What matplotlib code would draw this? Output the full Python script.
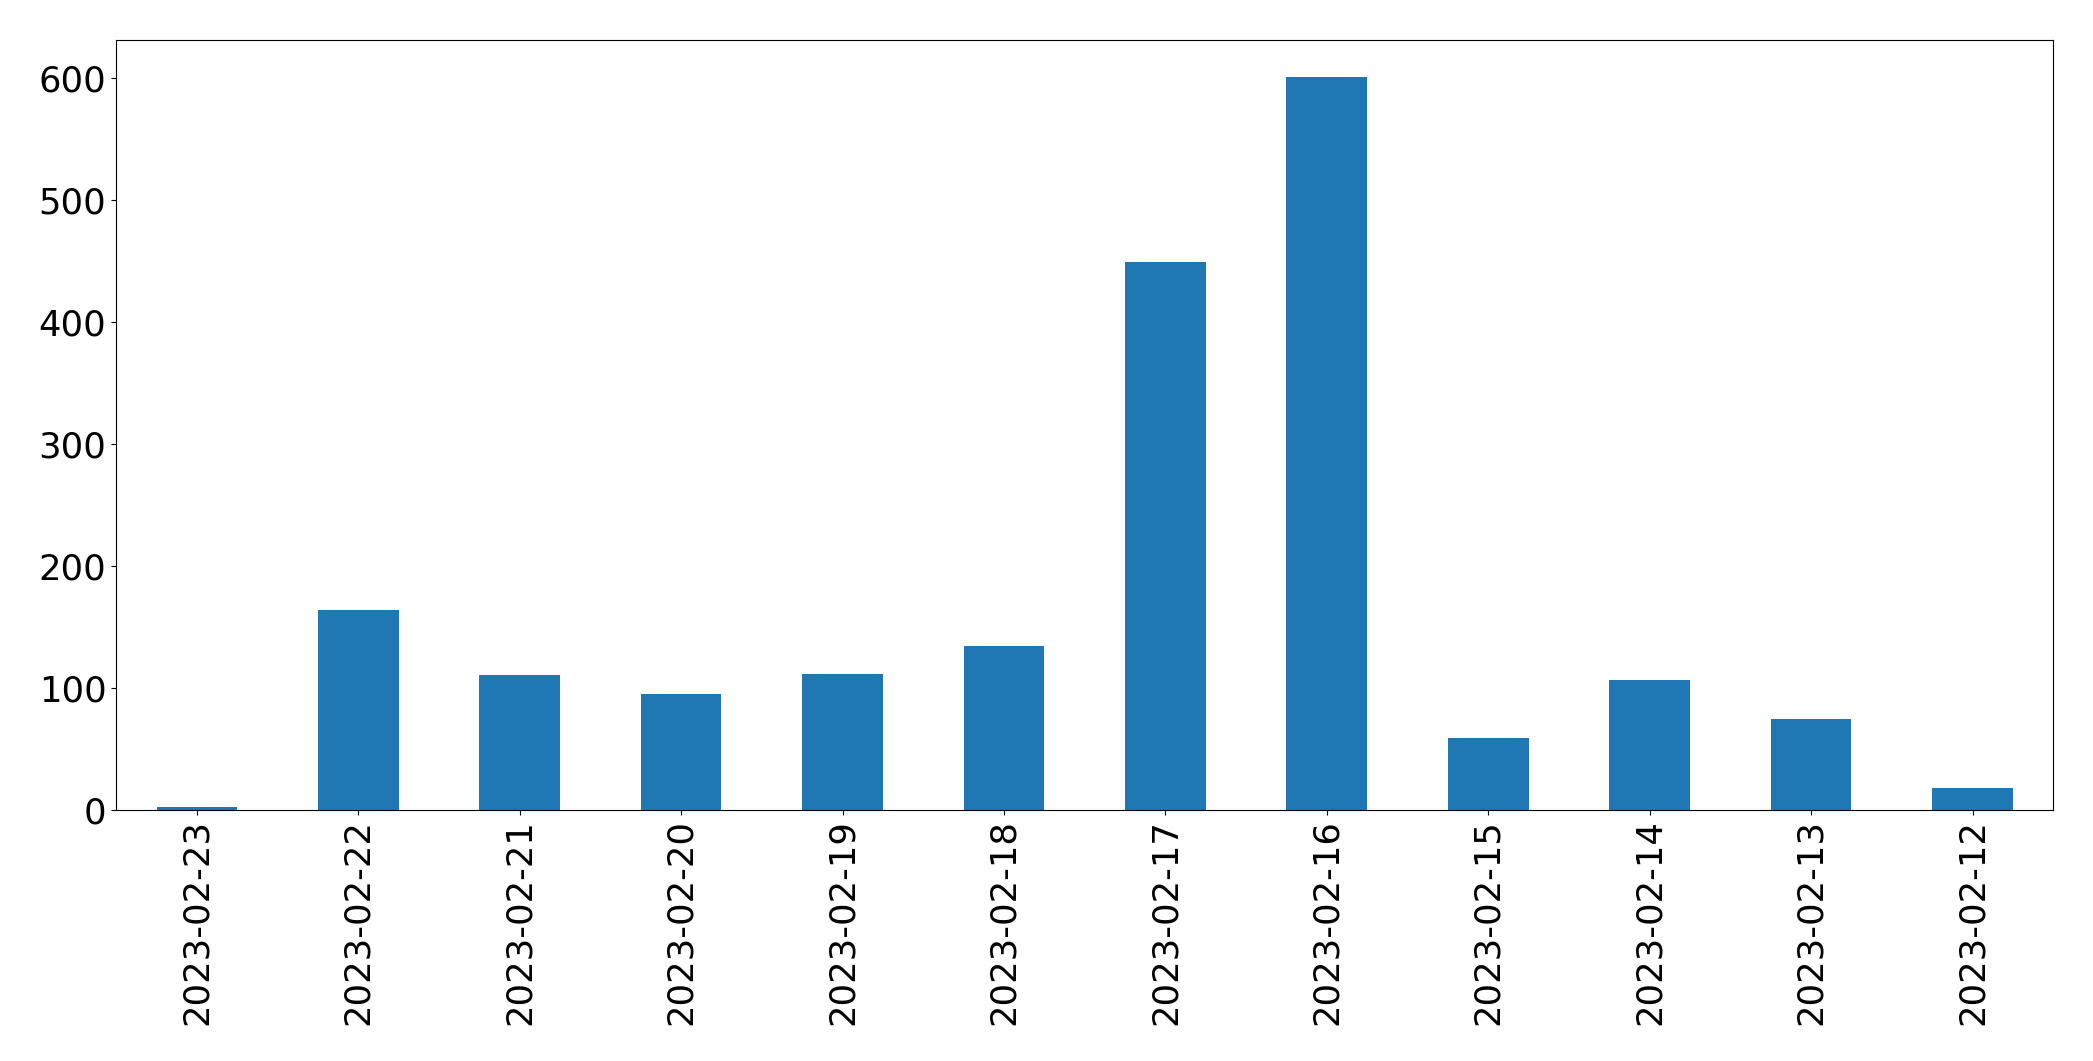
import matplotlib
matplotlib.use("Agg")
import matplotlib.pyplot as plt
import numpy as np

# daily counts, newest first (as in the original)
dates = ['2023-02-23', '2023-02-22', '2023-02-21', '2023-02-20', '2023-02-19', '2023-02-18',
         '2023-02-17', '2023-02-16', '2023-02-15', '2023-02-14', '2023-02-13', '2023-02-12']
counts = [2, 164, 110, 95, 111, 134, 449, 601, 59, 106, 74, 18]

fig, ax = plt.subplots(figsize=(20.93, 10.61), dpi=100)
x = np.arange(len(dates))
ax.bar(x, counts, width=0.5, color='#1f77b4')
ax.set_xticks(x)
ax.set_xticklabels(dates, rotation=90)
ax.set_xlim(-0.5, len(dates) - 0.5)
ax.tick_params(axis='both', labelsize=25.5)

plt.subplots_adjust(left=0.0555, right=0.981, top=0.962, bottom=0.237)
fig.savefig('out.png', dpi=100)
